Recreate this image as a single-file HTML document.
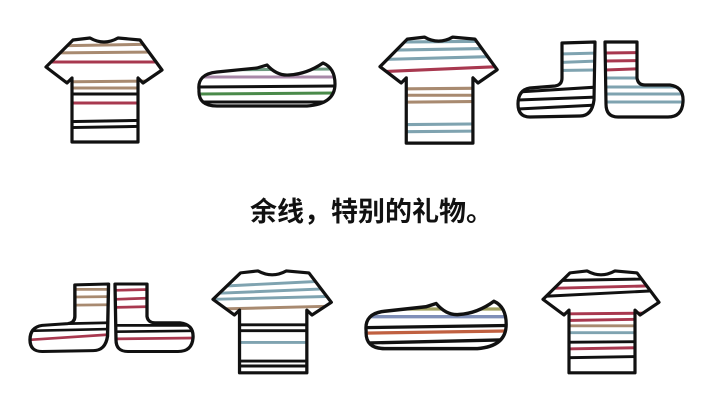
<!DOCTYPE html>
<html><head><meta charset="utf-8"><style>
html,body{margin:0;padding:0;background:#fff;width:720px;height:405px;overflow:hidden}
svg{position:absolute;left:0;top:0}
.t{position:absolute;left:250px;top:190px;font-family:"Liberation Sans","Noto Sans CJK SC",sans-serif;font-size:27px;font-weight:bold;color:#111;white-space:nowrap;letter-spacing:0px}
</style></head><body>
<svg width="720" height="405" viewBox="0 0 720 405">
<defs>
<path id="shirt" d="M44,4 Q58,12 72,4 L94,6 L116,36 L97,49 L92,44 L92,108 L26,108 L26,44 L21,49 L0,33 L27,6 Z"/>
<clipPath id="cs"><use href="#shirt"/></clipPath>
<path id="shoe" d="M4,30 Q2,14 22,12 L62,8 L72,5 Q82,16 94,15 Q112,14 128,3 Q140,8 140,24 Q140,44 112,46 L22,46 Q3,46 4,30 Z"/>
<clipPath id="csh"><use href="#shoe"/></clipPath>
<path id="sockL" d="M44,1 L77,0 L76,58 Q74,74 62,74 L12,75 Q0,75 0,62 Q0,48 12,46 L37,44 Q44,43 44,36 Z"/>
<clipPath id="csl"><use href="#sockL"/></clipPath>
<path id="sockR" d="M0,0 L32,0 L32,36 Q33,43 40,43 L65,43 Q79,45 78,60 Q77,75 63,75 L13,75 Q1,75 1,62 Z"/>
<clipPath id="csr"><use href="#sockR"/></clipPath>
</defs>
<g fill="none" stroke-linecap="round" stroke-linejoin="round">

<!-- shirt 1 -->
<g transform="translate(46,34)">
<g clip-path="url(#cs)" stroke-width="3">
<line x1="0" y1="12" x2="116" y2="10" stroke="#a88a70"/>
<line x1="0" y1="19" x2="116" y2="18" stroke="#a88a70"/>
<line x1="0" y1="28" x2="116" y2="28" stroke="#a8384f"/>
<line x1="0" y1="48" x2="116" y2="47" stroke="#a88a70"/>
<line x1="0" y1="54" x2="116" y2="54" stroke="#a88a70"/>
<line x1="0" y1="60" x2="116" y2="60" stroke="#111"/>
<line x1="0" y1="69" x2="116" y2="69" stroke="#a8384f"/>
<line x1="0" y1="88" x2="116" y2="86" stroke="#111"/>
<line x1="0" y1="94" x2="116" y2="92" stroke="#111"/>
</g>
<use href="#shirt" stroke="#111" stroke-width="3.2"/>
</g>

<!-- shoe 1 -->
<g transform="translate(195,60)">
<g clip-path="url(#csh)" stroke-width="3">
<line x1="0" y1="10" x2="140" y2="9" stroke="#6e9a80"/>
<line x1="0" y1="17" x2="140" y2="17" stroke="#a888a8"/>
<line x1="0" y1="27" x2="140" y2="26" stroke="#111"/>
<line x1="0" y1="34" x2="140" y2="33" stroke="#4a8a4a"/>
<line x1="0" y1="42" x2="140" y2="42" stroke="#111"/>
</g>
<use href="#shoe" stroke="#111" stroke-width="3.2"/>
</g>

<!-- shirt 2 -->
<g transform="translate(380,33) scale(1.01,1.02)">
<g clip-path="url(#cs)" stroke-width="3">
<line x1="0" y1="9" x2="116" y2="8" stroke="#7fa3b0"/>
<line x1="0" y1="17" x2="116" y2="15" stroke="#7fa3b0"/>
<line x1="0" y1="26" x2="116" y2="23" stroke="#7fa3b0"/>
<line x1="0" y1="38" x2="116" y2="33" stroke="#a8384f"/>
<line x1="0" y1="55" x2="116" y2="54" stroke="#a88a70"/>
<line x1="0" y1="61" x2="116" y2="61" stroke="#a88a70"/>
<line x1="0" y1="68" x2="116" y2="67" stroke="#a88a70"/>
<line x1="0" y1="90" x2="116" y2="89" stroke="#7fa3b0"/>
<line x1="0" y1="97" x2="116" y2="96" stroke="#7fa3b0"/>
</g>
<use href="#shirt" stroke="#111" stroke-width="3.2"/>
</g>

<!-- socks top -->
<g transform="translate(518,42)">
<g clip-path="url(#csl)" stroke-width="3">
<line x1="0" y1="13" x2="80" y2="11" stroke="#7fa3b0"/>
<line x1="0" y1="22" x2="80" y2="19" stroke="#7fa3b0"/>
<line x1="0" y1="29" x2="80" y2="28" stroke="#7fa3b0"/>
<line x1="0" y1="50" x2="80" y2="45" stroke="#111"/>
<line x1="0" y1="58" x2="80" y2="55" stroke="#111"/>
<line x1="0" y1="67" x2="80" y2="63" stroke="#111"/>
</g>
<use href="#sockL" stroke="#111" stroke-width="3.2"/>
</g>
<g transform="translate(605,42)">
<g clip-path="url(#csr)" stroke-width="3">
<line x1="0" y1="11" x2="80" y2="10" stroke="#a8384f"/>
<line x1="0" y1="19" x2="80" y2="18" stroke="#a8384f"/>
<line x1="0" y1="28" x2="80" y2="25" stroke="#a8384f"/>
<line x1="0" y1="36" x2="80" y2="36" stroke="#7fa3b0"/>
<line x1="0" y1="45" x2="80" y2="45" stroke="#7fa3b0"/>
<line x1="0" y1="52" x2="80" y2="52" stroke="#7fa3b0"/>
<line x1="0" y1="60" x2="80" y2="60" stroke="#7fa3b0"/>
</g>
<use href="#sockR" stroke="#111" stroke-width="3.2"/>
</g>

<!-- socks bottom -->
<g transform="translate(30,284) scale(1.02,0.9)">
<g clip-path="url(#csl)" stroke-width="3">
<line x1="0" y1="6" x2="80" y2="6" stroke="#a88a70"/>
<line x1="0" y1="15" x2="80" y2="14" stroke="#a88a70"/>
<line x1="0" y1="24" x2="80" y2="23" stroke="#a88a70"/>
<line x1="0" y1="45" x2="80" y2="43" stroke="#111"/>
<line x1="0" y1="52" x2="80" y2="50" stroke="#111"/>
<line x1="0" y1="62" x2="80" y2="56" stroke="#a8384f"/>
</g>
<use href="#sockL" stroke="#111" stroke-width="3.3"/>
</g>
<g transform="translate(115,284) scale(1.0,0.9)">
<g clip-path="url(#csr)" stroke-width="3">
<line x1="0" y1="7" x2="80" y2="5" stroke="#a8384f"/>
<line x1="0" y1="17" x2="80" y2="14" stroke="#a8384f"/>
<line x1="0" y1="26" x2="80" y2="24" stroke="#a8384f"/>
<line x1="0" y1="46" x2="80" y2="46" stroke="#111"/>
<line x1="0" y1="53" x2="80" y2="52" stroke="#111"/>
<line x1="0" y1="61" x2="80" y2="60" stroke="#a8384f"/>
</g>
<use href="#sockR" stroke="#111" stroke-width="3.3"/>
</g>

<!-- shirt 3 -->
<g transform="translate(213,267) scale(1.02,0.98)">
<g clip-path="url(#cs)" stroke-width="3">
<line x1="0" y1="20" x2="116" y2="14" stroke="#7fa3b0"/>
<line x1="0" y1="27" x2="116" y2="22" stroke="#7fa3b0"/>
<line x1="0" y1="33" x2="116" y2="30" stroke="#7fa3b0"/>
<line x1="0" y1="43" x2="116" y2="40" stroke="#a88a70"/>
<line x1="0" y1="59" x2="116" y2="59" stroke="#111"/>
<line x1="0" y1="65" x2="116" y2="65" stroke="#111"/>
<line x1="0" y1="77" x2="116" y2="77" stroke="#7fa3b0"/>
<line x1="0" y1="96" x2="116" y2="96" stroke="#111"/>
<line x1="0" y1="101" x2="116" y2="101" stroke="#111"/>
</g>
<use href="#shirt" stroke="#111" stroke-width="3.2"/>
</g>

<!-- shoe 2 -->
<g transform="translate(362,298) scale(1.03,1.1)">
<g clip-path="url(#csh)" stroke-width="3">
<line x1="0" y1="10" x2="140" y2="10" stroke="#a0a060"/>
<line x1="0" y1="17" x2="140" y2="17" stroke="#7f8fb8"/>
<line x1="0" y1="27" x2="140" y2="25" stroke="#111"/>
<line x1="0" y1="32" x2="140" y2="30" stroke="#c06040"/>
<line x1="0" y1="41" x2="140" y2="38" stroke="#111"/>
</g>
<use href="#shoe" stroke="#111" stroke-width="3.2"/>
</g>

<!-- shirt 4 -->
<g transform="translate(543,267) scale(1.0,0.98)">
<g clip-path="url(#cs)" stroke-width="3">
<line x1="0" y1="14" x2="116" y2="12" stroke="#111"/>
<line x1="0" y1="22" x2="116" y2="19" stroke="#a8384f"/>
<line x1="0" y1="30" x2="116" y2="24" stroke="#111"/>
<line x1="0" y1="48" x2="116" y2="47" stroke="#a8384f"/>
<line x1="0" y1="55" x2="116" y2="53" stroke="#a8384f"/>
<line x1="0" y1="60" x2="116" y2="60" stroke="#a88a70"/>
<line x1="0" y1="67" x2="116" y2="67" stroke="#7fa3b0"/>
<line x1="0" y1="77" x2="116" y2="76" stroke="#111"/>
<line x1="0" y1="84" x2="116" y2="82" stroke="#a8384f"/>
<line x1="0" y1="93" x2="116" y2="91" stroke="#111"/>
</g>
<use href="#shirt" stroke="#111" stroke-width="3.2"/>
</g>
</g>
</svg>
<div class="t">余线，特别的礼物。</div>
</body></html>
